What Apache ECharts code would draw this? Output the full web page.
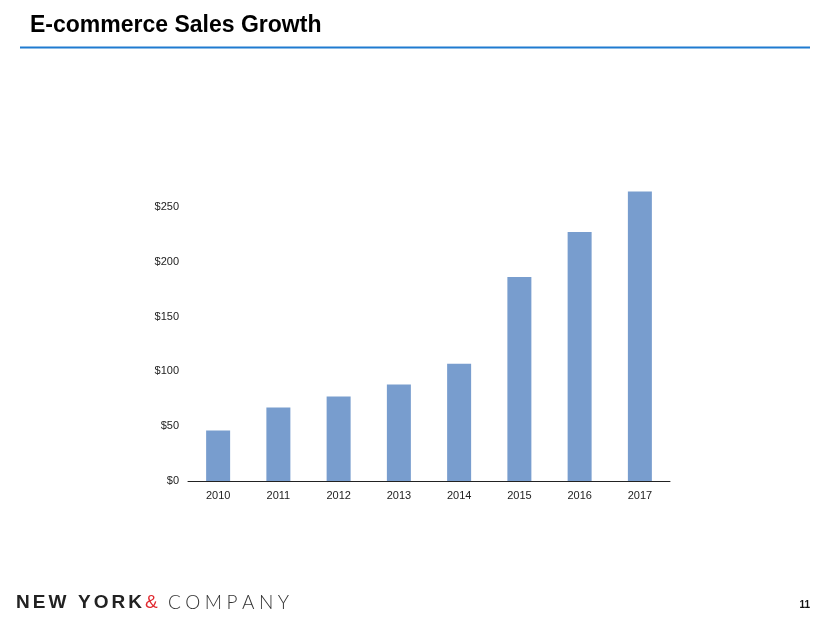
<!DOCTYPE html>
<html>
<head>
<meta charset="utf-8">
<script src="https://cdn.jsdelivr.net/npm/echarts@6/dist/echarts.min.js"></script>
<style>
html,body{margin:0;padding:0;background:#fff;}
#chart{width:830px;height:623px;}
</style>
</head>
<body>
<div id="chart"></div>
<script>
const titleText = 'E-commerce Sales Growth';
const categories = ['2010','2011','2012','2013','2014','2015','2016','2017'];
const salesValues = [46, 67, 77, 88, 107, 186, 227, 264];
const yTickValues = [0, 50, 100, 150, 200, 250];
const pageNumber = '11';

const chart = echarts.init(document.getElementById('chart'));

const measureCtx = document.createElement('canvas').getContext('2d');
function spacedText(text, x, y, font, fontWeight, fontSize, color, targetWidth) {
  measureCtx.font = fontWeight + ' ' + fontSize + 'px ' + font;
  const chars = text.split('');
  const widths = chars.map(c => measureCtx.measureText(c).width);
  const total = widths.reduce((a, b) => a + b, 0);
  const gap = chars.length > 1 ? (targetWidth - total) / (chars.length - 1) : 0;
  const els = [];
  let cx = x;
  chars.forEach((c, i) => {
    if (c !== ' ') {
      els.push({
        type: 'text', left: null, x: cx, y: y,
        style: { text: c, font: fontWeight + ' ' + fontSize + 'px ' + font, fill: color, textVerticalAlign: 'middle', verticalAlign: 'middle' }
      });
    }
    cx += widths[i] + gap;
  });
  return els;
}

const graphics = [
  { type: 'text', x: 30, y: 26,
    style: { text: titleText, font: 'bold 23px "Liberation Sans", Arial, sans-serif', fill: '#000', verticalAlign: 'middle' } },
  { type: 'line', shape: { x1: 20, y1: 47.5, x2: 810, y2: 47.5 },
    style: { stroke: '#1f7bd0', lineWidth: 2 } },
  { type: 'text', x: 810, y: 605,
    style: { text: pageNumber, font: 'bold 10px "Liberation Sans", Arial, sans-serif', fill: '#111', align: 'right', verticalAlign: 'middle' } }
].concat(
  spacedText('NEW YORK', 16, 603, '"Liberation Sans", Arial, sans-serif', 'bold', 19, '#222', 126),
  spacedText('&', 145, 603, '"Liberation Sans", Arial, sans-serif', 'normal', 19, '#e0282e', 16),
  spacedText('COMPANY', 168, 603, 'Lato, "Liberation Sans", sans-serif', '300', 19, '#333', 121)
);

chart.setOption({
  animation: false,
  backgroundColor: '#fff',
  grid: { left: 188, right: 160, top: 152, bottom: 142, containLabel: false },
  xAxis: {
    type: 'category',
    data: categories,
    axisLine: { lineStyle: { color: '#222', width: 1 } },
    axisTick: { show: false },
    axisLabel: { color: '#222', fontSize: 11, fontFamily: '"Liberation Sans", Arial, sans-serif', margin: 9 }
  },
  yAxis: {
    type: 'value',
    min: 0, max: 300, interval: 50,
    axisLine: { show: false },
    axisTick: { show: false },
    splitLine: { show: false },
    axisLabel: {
      color: '#222', fontSize: 11, fontFamily: '"Liberation Sans", Arial, sans-serif', margin: 9,
      formatter: v => yTickValues.indexOf(v) >= 0 ? '$' + v : ''
    }
  },
  series: [{
    type: 'bar',
    data: salesValues,
    barWidth: 24,
    itemStyle: { color: '#789dce' }
  }],
  graphic: graphics
});
</script>
</body>
</html>
